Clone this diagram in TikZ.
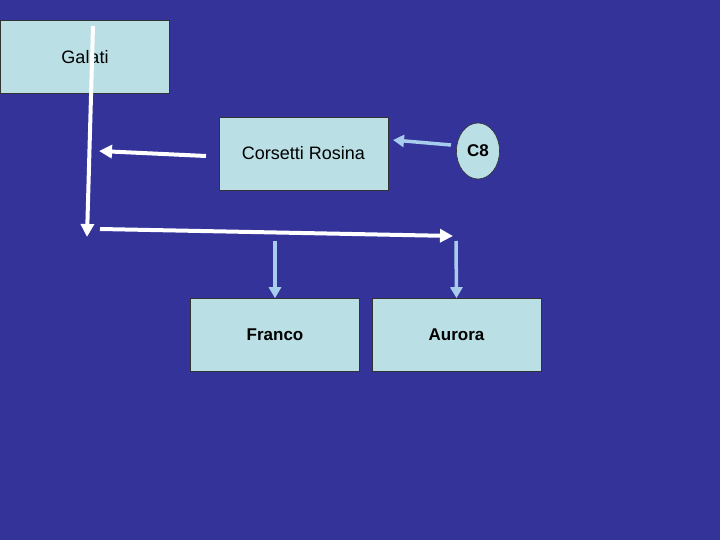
\documentclass[tikz,border=0pt]{standalone}
\usepackage{fontspec}
\setmainfont{Liberation Sans}
\usetikzlibrary{arrows.meta,shapes.geometric}
\definecolor{bgblue}{HTML}{333399}
\definecolor{boxfill}{HTML}{BADFE4}
\definecolor{lblue}{HTML}{A8CCEC}
\tikzset{
  box/.style={draw=black!80, line width=0.6pt, fill=boxfill, minimum width=169pt, minimum height=73pt, inner sep=0pt, font=\fontsize{18}{21}\selectfont},
  oval/.style={ellipse, draw=black!80, line width=0.6pt, fill=boxfill, minimum width=43pt, minimum height=56pt, inner sep=0pt, font=\bfseries\fontsize{17}{20}\selectfont},
  wline/.style={draw=white, line width=4pt},
  warrow/.style={wline, -{Triangle[length=13pt,width=13pt]}},
  barrow/.style={draw=lblue, line width=3.5pt, -{Triangle[length=11pt,width=12pt]}}
}
\begin{document}
\begin{tikzpicture}[x=1pt,y=-1pt]
\fill[bgblue] (0,0) rectangle (720,540);
\useasboundingbox (0,0) rectangle (720,540);
\node[box] (galati) at (85,57) {Galati};
\node[box] (corsetti) at (303.5,153.5) {Corsetti Rosina};
\node[oval] (c8) at (478,151) {C8};
\node[box, font=\bfseries\fontsize{17}{20}\selectfont] (franco) at (275,335) {Franco};
\node[box, font=\bfseries\fontsize{17}{20}\selectfont] (aurora) at (456.5,335) {Aurora};
\coordinate (vtop) at (93,26);
\coordinate (vbot) at (87,237);
\coordinate (ltip) at (99,151);
\coordinate (cw) at (206,156);
\coordinate (hstart) at (100,229);
\coordinate (htip) at (453,236);
\coordinate (c8w) at (451,145);
\coordinate (ce) at (393,140);
\coordinate (ftop) at (275,241);
\coordinate (atop) at (456,241);
\draw[warrow] (vtop) -- (vbot);
\draw[warrow] (cw) -- (ltip);
\draw[warrow] (hstart) -- (htip);
\draw[barrow] (c8w) -- (ce);
\draw[barrow] (ftop) -- (franco.north);
\draw[barrow] (atop) -- (aurora.north);
\end{tikzpicture}
\end{document}
